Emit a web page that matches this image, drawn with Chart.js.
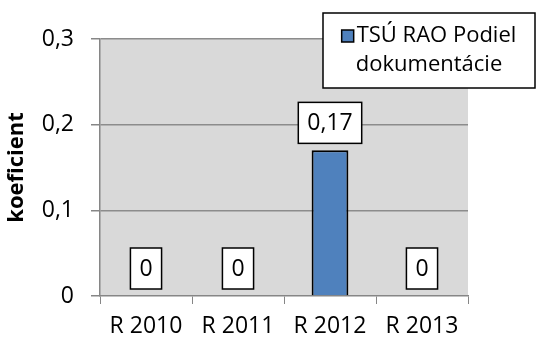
<!DOCTYPE html>
<html>
<head>
<meta charset="utf-8">
<script src="https://cdn.jsdelivr.net/npm/chart.js@4/dist/chart.umd.min.js"></script>
<style>
    html, body { margin: 0; padding: 0; background: #fff; }
    #wrap { width: 538px; height: 340px; }
</style>
</head>
<body>
<div id="wrap"><canvas id="koefChart" width="538" height="340"></canvas></div>
<script>
// Podiel dokumentácie po rokoch
const years = ['R 2010', 'R 2011', 'R 2012', 'R 2013'];
const podiel = [0, 0, 0.17, 0];
const yTicks = [0, 0.1, 0.2, 0.3];
const yTickLabels = ['0', '0,1', '0,2', '0,3'];
const seriesName = 'TSÚ RAO Podiel dokumentácie';
const legendLines = ['TSÚ RAO Podiel', 'dokumentácie'];

const FONT = "'Open Sans', sans-serif";
const BAR_BLUE = '#4f81bd';

function fmt(v) {
    return String(Number(v.toFixed(2))).replace('.', ',');
}

// gray plot background
const plotBackground = {
    id: 'plotBackground',
    beforeDraw(chart) {
        const { ctx, chartArea: a } = chart;
        ctx.save();
        ctx.fillStyle = '#d9d9d9';
        ctx.fillRect(a.left, a.top, a.right - a.left, a.bottom - a.top);
        ctx.restore();
    },
};

// boxed value labels above the bars
const boxedLabels = {
    id: 'boxedLabels',
    afterDatasetsDraw(chart) {
        const { ctx } = chart;
        const meta = chart.getDatasetMeta(0);
        ctx.save();
        ctx.font = '23px ' + FONT;
        ctx.textAlign = 'center';
        ctx.textBaseline = 'middle';
        meta.data.forEach((bar, i) => {
            const text = fmt(chart.data.datasets[0].data[i]);
            const w = ctx.measureText(text).width + 18;
            const h = 41;
            const bottom = bar.y - 7;
            const x = bar.x - w / 2;
            ctx.fillStyle = '#fff';
            ctx.fillRect(x, bottom - h, w, h);
            ctx.lineWidth = 1.5;
            ctx.strokeStyle = '#000';
            ctx.strokeRect(x, bottom - h, w, h);
            ctx.fillStyle = '#000';
            ctx.fillText(text, bar.x, bottom - h / 2 + 1);
        });
        ctx.restore();
    },
};

// framed legend in the top right corner
const boxLegend = {
    id: 'boxLegend',
    afterDraw(chart) {
        const { ctx } = chart;
        const left = 323, top = 13, right = 535, bottom = 88;
        ctx.save();
        ctx.fillStyle = '#fff';
        ctx.fillRect(left, top, right - left, bottom - top);
        ctx.lineWidth = 1.5;
        ctx.strokeStyle = '#000';
        ctx.strokeRect(left, top, right - left, bottom - top);

        ctx.font = '22px ' + FONT;
        ctx.textBaseline = 'middle';
        const cx = (left + right) / 2;
        const w1 = ctx.measureText(legendLines[0]).width;
        const sq = 12, gap = 3;
        const startX = cx - (sq + gap + w1) / 2;
        const y1 = 36, y2 = 65;
        ctx.fillStyle = BAR_BLUE;
        ctx.fillRect(startX, y1 - sq / 2, sq, sq);
        ctx.lineWidth = 1.5;
        ctx.strokeStyle = '#000';
        ctx.strokeRect(startX, y1 - sq / 2, sq, sq);
        ctx.fillStyle = '#000';
        ctx.textAlign = 'left';
        ctx.fillText(legendLines[0], startX + sq + gap, y1);
        ctx.textAlign = 'center';
        ctx.fillText(legendLines[1], cx, y2);
        ctx.restore();
    },
};

new Chart(document.getElementById('koefChart'), {
    type: 'bar',
    data: {
        labels: years,
        datasets: [{
            label: seriesName,
            data: podiel,
            backgroundColor: BAR_BLUE,
            borderColor: '#000',
            borderWidth: (c) => (c.raw === 0 ? 0 : 2),
            borderSkipped: 'bottom',
            barPercentage: 0.4,
            categoryPercentage: 1,
        }],
    },
    options: {
        responsive: false,
        animation: false,
        devicePixelRatio: 1,
        layout: { padding: { top: 39, right: 70, left: 0, bottom: 0 } },
        plugins: {
            legend: { display: false },
            tooltip: { enabled: false },
        },
        scales: {
            x: {
                grid: {
                    offset: true,
                    drawOnChartArea: false,
                    color: '#868686',
                    tickLength: 8,
                },
                border: { color: '#868686', width: 1.5 },
                ticks: {
                    color: '#000',
                    font: { family: FONT, size: 23 },
                    padding: 9,
                    maxRotation: 0,
                },
                afterFit(scale) { scale.height = 44; },
            },
            y: {
                min: 0,
                max: 0.3,
                afterBuildTicks(scale) {
                    scale.ticks = yTicks.map(v => ({ value: v }));
                },
                grid: {
                    color: (c) => (c.tick && c.tick.value === 0 ? 'rgba(0,0,0,0)' : '#8c8c8c'),
                    lineWidth: 1.5,
                    tickLength: 9,
                    tickColor: '#868686',
                },
                border: { color: '#868686', width: 1.5 },
                ticks: {
                    color: '#000',
                    font: { family: FONT, size: 23 },
                    padding: 17,
                    callback: (v, i) => yTickLabels[i],
                },
                title: {
                    display: true,
                    text: 'koeficient',
                    color: '#000',
                    font: { family: FONT, size: 22, weight: 'bold' },
                    padding: { top: 4, bottom: 0 },
                },
                afterFit(scale) { scale.width = 100; },
            },
        },
    },
    plugins: [plotBackground, boxedLabels, boxLegend],
});
</script>
</body>
</html>
